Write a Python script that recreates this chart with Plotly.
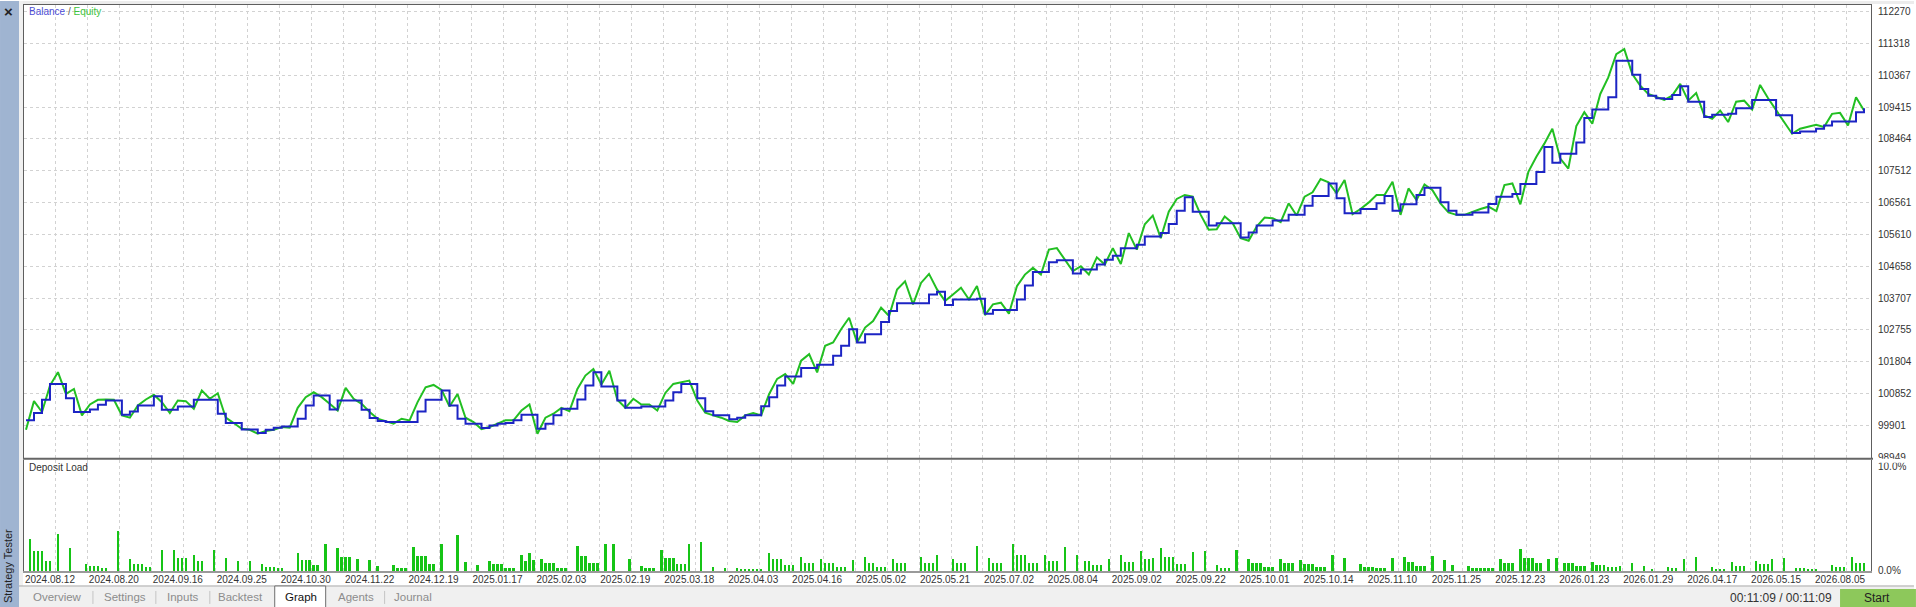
import plotly.graph_objects as go

# Balance / equity, one sample every second deal
balance = [
    100050, 100270, 100665, 101140, 101140, 100715, 100300, 100300, 100375, 100515,
    100645, 100645, 100220, 100315, 100495, 100495, 100775, 100365, 100365, 100465,
    100465, 100665, 100665, 100665, 100250, 99970, 99970, 99780, 99780, 99670,
    99770, 99830, 99870, 99870, 100100, 100495, 100795, 100795, 100375, 100645,
    100645, 100645, 100365, 100120, 100030, 100000, 100000, 100000, 100000, 100315,
    100665, 100665, 100940, 100495, 100100, 99950, 99950, 99820, 99900, 99950,
    99970, 100050, 100220, 100220, 99800, 99950, 100200, 100395, 100395, 100675,
    101090, 101490, 101060, 101060, 100645, 100425, 100425, 100465, 100465, 100465,
    100645, 100890, 101140, 101140, 100715, 100325, 100200, 100200, 100080, 100130,
    100200, 100200, 100475, 100745, 101090, 101360, 101360, 101615, 101615, 101715,
    101715, 101980, 102280, 102775, 102380, 102625, 102625, 102990, 103320, 103550,
    103550, 103550, 103550, 103815, 103895, 103500, 103665, 103665, 103665, 103685,
    103240, 103350, 103350, 103350, 103665, 104080, 104490, 104490, 104775, 104835,
    104835, 104440, 104560, 104560, 104710, 104855, 104975, 105200, 105200, 105300,
    105550, 105550, 105650, 105925, 106320, 106720, 106290, 106290, 105875, 105945,
    105945, 105945, 105520, 105670, 105875, 105875, 106025, 106025, 106195, 106195,
    106470, 106760, 106760, 107135, 106690, 106245, 106245, 106370, 106370, 106540,
    106760, 106320, 106510, 106510, 106790, 107005, 107005, 106570, 106320, 106195,
    106195, 106265, 106265, 106520, 106740, 106740, 106820, 107115, 107115, 107480,
    108225, 107750, 108025, 108025, 108355, 109090, 109345, 109345, 109710, 110800,
    110800, 110385, 109960, 109760, 109680, 109660, 109780, 110040, 109580, 109580,
    109120, 109190, 109190, 109215, 109385, 109385, 109630, 109630, 109630, 109170,
    109170, 108640, 108690, 108690, 108770, 108870, 108990, 108990, 108990, 109265, 109380,
]
equity = [
    99770, 100625, 100300, 101090, 101490, 100840, 100990, 100200, 100525, 100665,
    100675, 100665, 100200, 100130, 100495, 100675, 100815, 100595, 100270, 100645,
    100625, 100395, 100940, 100695, 100860, 100130, 99970, 99800, 99770, 99650,
    99730, 99770, 99850, 99830, 100425, 100745, 100890, 100745, 100545, 100345,
    101020, 100695, 100545, 100300, 100100, 100030, 99950, 100100, 100050, 100595,
    101040, 101110, 100960, 100465, 100840, 100130, 100000, 99790, 99850, 99950,
    100050, 100050, 100345, 100525, 99650, 100130, 100250, 100425, 100325, 100990,
    101390, 101585, 101120, 101535, 100665, 100425, 100695, 100525, 100525, 100345,
    100870, 101140, 101190, 101240, 100645, 100280, 100200, 100130, 100030, 100000,
    100200, 100270, 100200, 100840, 101290, 101435, 101140, 101835, 102030, 101485,
    102280, 102380, 102775, 103120, 102380, 102825, 103020, 103420, 103170, 103965,
    104210, 103520, 104160, 104430, 103965, 103620, 103815, 104015, 103665, 104065,
    103200, 103520, 103570, 103240, 104065, 104410, 104610, 104410, 105155, 105200,
    104855, 104510, 104660, 104410, 104925, 104710, 105200, 104725, 105650, 105155,
    105915, 106175, 105500, 106290, 106670, 106790, 106740, 106195, 105750, 105765,
    106145, 105945, 105500, 105420, 105845, 106115, 106095, 105975, 106540, 106175,
    106740, 106870, 107265, 107165, 106840, 107235, 106215, 106370, 106560, 106790,
    106790, 107185, 106195, 106985, 106640, 107105, 106935, 106540, 106270, 106195,
    106195, 106290, 106370, 106440, 106310, 107085, 107135, 106510, 107480, 107930,
    108325, 108770, 107880, 107580, 108850, 109265, 108920, 109810, 110305, 111000,
    111150, 110405, 110060, 109810, 109710, 109630, 109760, 110110, 109610, 109840,
    109170, 109070, 109315, 108970, 109580, 109610, 109345, 110080, 109680, 109315,
    108970, 108620, 108770, 108820, 108890, 108820, 109215, 109245, 108870, 109710, 109315,
]
curve_deals = [2 * i for i in range(len(balance))]

# Deposit load per deal (%)
load_deal = [
    1, 2, 3, 4, 5, 6, 8, 11, 15, 16, 17, 18, 19, 20, 23, 26, 27, 28, 29, 30, 31, 34, 37, 38, 39, 40,
    42, 43, 44, 47, 50, 53, 56, 59, 60, 61, 62, 63, 64, 68, 69, 70, 71, 72, 73, 75, 78, 79, 80, 81,
    83, 86, 88, 92, 93, 94, 95, 97, 98, 99, 100, 101, 102, 104,
    108, 110, 113, 116, 117, 118, 119, 120, 121, 122, 124, 125, 126, 127, 129, 130, 131, 132, 133,
    134, 135, 138, 139, 140, 141, 142, 143, 145, 147, 151, 154, 155, 156, 157, 159, 160, 161, 162,
    163, 164, 165, 166, 169, 172, 175, 178, 179, 180, 181, 182, 183, 184, 186, 187, 188, 189, 190,
    191, 192, 194, 195, 196, 197, 199, 200, 201, 202, 203, 204, 205, 207, 210, 211, 212, 213, 214,
    215, 217, 218, 219, 220, 224, 225, 226, 227, 228, 232, 233, 234, 235, 238, 241, 242, 243, 244,
    247, 248, 249, 250, 251, 252, 253, 255, 256, 257, 258, 260,
    263, 265, 266, 267, 268, 269, 271, 274, 275, 276, 277, 279, 280, 281, 282, 284, 285, 286, 287,
    288, 289, 290, 292, 295, 298, 299, 300, 301, 303, 306, 307, 308, 309, 310, 311, 312, 314, 315,
    316, 317, 319, 320, 321, 322, 323, 324, 325, 327, 330, 334, 335, 336, 337, 338, 339, 340, 342,
    345, 346, 347, 348, 349, 350, 352, 355, 357, 361, 362, 363, 364, 365, 366, 367, 369, 370, 371,
    372, 374, 375, 376, 377, 378, 379, 381, 383, 385, 386, 387, 388, 389, 390, 392, 393, 394, 395,
    396, 397, 398, 399, 402, 405, 407, 411, 412, 413, 415, 418,
    422, 423, 424, 425, 427, 428, 429, 430, 433, 434, 435, 436, 437, 440, 443, 444, 445, 446, 447,
    448, 452, 453, 454, 455, 457, 458, 459, 460,
]
load_pct = [
    3.05, 1.9, 1.9, 1.9, 0.95, 0.95, 3.52, 2.19, 0.67, 0.48, 0.48, 0.48, 0.29, 0.29, 3.81, 1.14,
    0.67, 0.67, 0.67, 0.38, 0.38, 2.0, 2.0, 1.24, 1.24, 1.24, 1.52, 0.95, 0.95, 2.0, 1.24, 0.95,
    0.95, 0.67, 0.38, 0.38, 0.38, 0.29, 0.29, 1.71, 1.05, 1.05, 1.05, 0.57, 0.57, 2.57, 2.19, 1.33,
    1.33, 1.33, 1.14, 1.05, 0.48, 0.57, 0.29, 0.29, 0.29, 2.28, 1.43, 1.43, 1.43, 0.67, 0.67, 2.57,
    3.43, 0.86, 0.54, 0.95, 0.64, 0.64, 0.64, 0.31, 0.31, 0.31, 1.52, 0.95, 1.69, 1.02, 1.17, 0.7,
    0.7, 0.7, 0.31, 0.31, 0.31, 2.38, 1.4, 1.4, 0.7, 0.7, 0.7, 2.54, 2.54, 1.17, 0.48, 0.31, 0.31,
    0.31, 2.0, 1.24, 1.24, 1.24, 0.64, 0.64, 0.64, 2.54, 2.76, 0.38, 0.31, 0.26, 0.19, 0.19, 0.19,
    0.1, 0.1, 0.1, 1.74, 1.11, 1.11, 1.11, 0.54, 0.54, 0.54, 1.33, 0.79, 0.79, 0.79, 1.11, 0.7, 0.7,
    0.7, 0.41, 0.41, 0.41, 1.02, 1.33, 0.79, 0.79, 0.41, 0.41, 0.41, 1.17, 0.7, 0.7, 0.7, 1.33,
    0.79, 0.79, 0.79, 1.49, 1.17, 0.7, 0.7, 0.7, 2.38, 1.27, 0.79, 0.79, 0.79, 2.54, 1.52, 1.52,
    1.52, 0.79, 0.79, 0.79, 1.52, 0.95, 0.95, 0.95, 2.31,
    1.52, 0.95, 0.95, 0.54, 0.54, 0.54, 1.17, 1.49, 0.86, 0.86, 0.86, 1.9, 1.17, 1.17, 1.27, 2.16,
    1.33, 1.33, 1.33, 0.64, 0.64, 0.64, 1.84, 1.9, 0.54, 0.31, 0.31, 0.31, 2.0, 1.11, 0.7, 0.7, 0.7,
    0.41, 0.41, 0.41, 1.17, 0.7, 0.7, 0.7, 1.02, 0.64, 0.64, 0.64, 0.41, 0.41, 0.41, 1.49, 1.27,
    0.64, 0.41, 0.41, 0.41, 0.26, 0.26, 0.26, 1.27, 1.33, 0.86, 0.86, 0.48, 0.48, 0.48, 1.43, 1.02,
    0.54, 0.48, 0.31, 0.31, 0.31, 0.26, 0.26, 0.26, 1.17, 0.79, 0.79, 0.79, 2.07, 1.27, 1.27, 1.27,
    0.7, 0.7, 1.17, 1.27, 0.73, 0.73, 0.73, 0.48, 0.48, 0.48, 0.86, 0.54, 0.54, 0.54, 0.41, 0.41,
    0.41, 0.48, 0.7, 0.48, 0.19, 0.41, 0.26, 0.26, 1.17, 1.33,
    0.38, 0.22, 0.22, 0.22, 0.86, 0.48, 0.48, 0.48, 0.92, 0.64, 0.64, 0.64, 1.17, 1.27, 0.31, 0.26,
    0.26, 0.16, 0.16, 0.16, 0.54, 0.41, 0.41, 0.41, 1.33, 0.79, 0.79, 0.79,
]
assert len(load_deal) == len(load_pct)

date_labels = [
    "2024.08.12", "2024.08.20", "2024.09.16", "2024.09.25", "2024.10.30", "2024.11.22",
    "2024.12.19", "2025.01.17", "2025.02.03", "2025.02.19", "2025.03.18", "2025.04.03",
    "2025.04.16", "2025.05.02", "2025.05.21", "2025.07.02", "2025.08.04", "2025.09.02",
    "2025.09.22", "2025.10.01", "2025.10.14", "2025.11.10", "2025.11.25", "2025.12.23",
    "2026.01.23", "2026.01.29", "2026.04.17", "2026.05.15", "2026.08.05",
]
balance_ticks = [98949, 99901, 100852, 101804, 102755, 103707, 104658, 105610,
                 106561, 107512, 108464, 109415, 110367, 111318, 112270]
tabs = ["Overview", "Settings", "Inputs", "Backtest", "Graph", "Agents", "Journal"]

W, H = 1916, 607
L, R, T, B = 24, 1873, 4, 571
FONT = "Liberation Sans"


def px(x):
    return (x - L) / (R - L)


def py(y):
    return (B - y) / (B - T)


# grid every 8 deals, date label on every other line
grid_x = [7.5 + 8 * m for m in range(2 * len(date_labels) - 1)]
grid_text = [date_labels[m // 2] if m % 2 == 0 else "" for m in range(len(grid_x))]

fig = go.Figure()
fig.add_trace(go.Scatter(x=curve_deals, y=equity, mode="lines",
                         line=dict(color="#22bf22", width=2), xaxis="x", yaxis="y"))
fig.add_trace(go.Scatter(x=curve_deals, y=balance, mode="lines",
                         line=dict(color="#1c24c4", width=2, shape="hv"), xaxis="x", yaxis="y"))
fig.add_trace(go.Bar(x=load_deal, y=load_pct, width=0.6, marker_color="#16c416",
                     marker_line_width=0, xaxis="x2", yaxis="y2"))

grid = dict(showgrid=True, gridcolor="#d2d2d2", gridwidth=1, griddash="3px,3px", zeroline=False)
xr = [-0.5, (R - 26) / 4]

fig.update_layout(
    width=W, height=H,
    margin=dict(l=L, r=W - R, t=T, b=H - B),
    paper_bgcolor="white", plot_bgcolor="white",
    showlegend=False, bargap=0,
    font=dict(family=FONT, size=10, color="#333333"),
    xaxis=dict(range=xr, tickvals=grid_x, showticklabels=False, ticks="",
               showline=True, mirror=True, linecolor="#5e5e5e", linewidth=1, **grid),
    yaxis=dict(domain=[py(458), 1], range=[98919, 112470], side="right",
               tickvals=balance_ticks, ticktext=[str(v) for v in balance_ticks],
               ticks="", ticklabelstandoff=4, showline=True, mirror=True,
               linecolor="#5e5e5e", linewidth=1, **grid),
    xaxis2=dict(range=xr, anchor="y2", matches="x", tickvals=grid_x, ticktext=grid_text,
                ticks="", ticklabelshift=-6, ticklabelstandoff=-2,
                showline=True, linecolor="#9a9a9a", linewidth=2, **grid),
    yaxis2=dict(domain=[0, py(460)], range=[0, 10.6], side="right", anchor="x2",
                tickvals=[0, 10], ticktext=["0.0%", "10.0%"], ticks="", ticklabelstandoff=4,
                showgrid=False, zeroline=False, showline=True, mirror=True,
                linecolor="#5e5e5e", linewidth=1),
)

P = dict(xref="paper", yref="paper")
shapes = [
    # window chrome
    dict(type="rect", x0=px(0), x1=px(W), y0=py(0), y1=py(3), fillcolor="#ececec", line_width=0),
    dict(type="rect", x0=px(0), x1=px(19), y0=py(0), y1=py(H), fillcolor="#9fb4d1", line_width=0),
    dict(type="rect", x0=px(19), x1=px(23), y0=py(0), y1=py(H), fillcolor="#f0f0f0", line_width=0),
    dict(type="rect", x0=px(19), x1=px(W), y0=py(586), y1=py(H), fillcolor="#f0f0f0", line_width=0),
    dict(type="line", x0=px(19), x1=px(W), y0=py(586), y1=py(586), line=dict(color="#a8a8a8", width=1)),
    dict(type="rect", x0=px(275), x1=px(326), y0=py(586), y1=py(H + 2), fillcolor="white",
         line=dict(color="#6e6e6e", width=1)),
    dict(type="rect", x0=px(1842), x1=px(W + 2), y0=py(589), y1=py(H + 2), fillcolor="#8dc85b", line_width=0),
    # panel separator and cut of the lowest price label
    dict(type="rect", x0=px(1874), x1=px(W), y0=py(458.5), y1=py(462.5), fillcolor="white",
         line_width=0, layer="above"),
    dict(type="line", x0=px(23), x1=px(1875), y0=py(458.5), y1=py(458.5),
         line=dict(color="#666666", width=2), layer="above"),
]
for sx in [93, 156, 210, 385]:
    shapes.append(dict(type="line", x0=px(sx), x1=px(sx), y0=py(591), y1=py(604),
                       line=dict(color="#c4c4c4", width=1)))
fig.update_layout(shapes=[dict(s, **P) for s in shapes])

C = dict(xanchor="center", yanchor="middle", showarrow=False)
ann = [
    dict(x=px(27), y=py(11), xanchor="left", yanchor="middle", showarrow=False,
         text="<span style='color:#4d4dd6'>Balance</span> <span style='color:#555'>/</span> "
              "<span style='color:#3cc43c'>Equity</span>", font=dict(size=10)),
    dict(x=px(27), y=py(467), xanchor="left", yanchor="middle", showarrow=False,
         text="Deposit Load", font=dict(size=10, color="#333333")),
    dict(x=px(8.5), y=py(11), text="<b>×</b>", font=dict(size=15, color="#222222"), **C),
    dict(x=px(8), y=py(566), text="Strategy Tester", textangle=-90,
         font=dict(size=11, color="#222222"), **C),
    dict(x=px(1783), y=py(598), text="00:11:09 / 00:11:09",
         font=dict(size=12, color="#333333"), **C),
    dict(x=px(1879), y=py(598), text="Start", font=dict(size=12, color="#222222"), **C),
]
tab_x = [58, 125, 183, 241, 301, 356, 413]
for name, tx in zip(tabs, tab_x):
    ann.append(dict(x=px(tx), y=py(597), text=name,
                    font=dict(size=11.5, color="#111111" if name == "Graph" else "#8c8c8c"), **C))
fig.update_layout(annotations=[dict(a, **P) for a in ann])

fig.write_html("out.html", config={"displayModeBar": False},
               post_script="document.body.style.margin='0';")
